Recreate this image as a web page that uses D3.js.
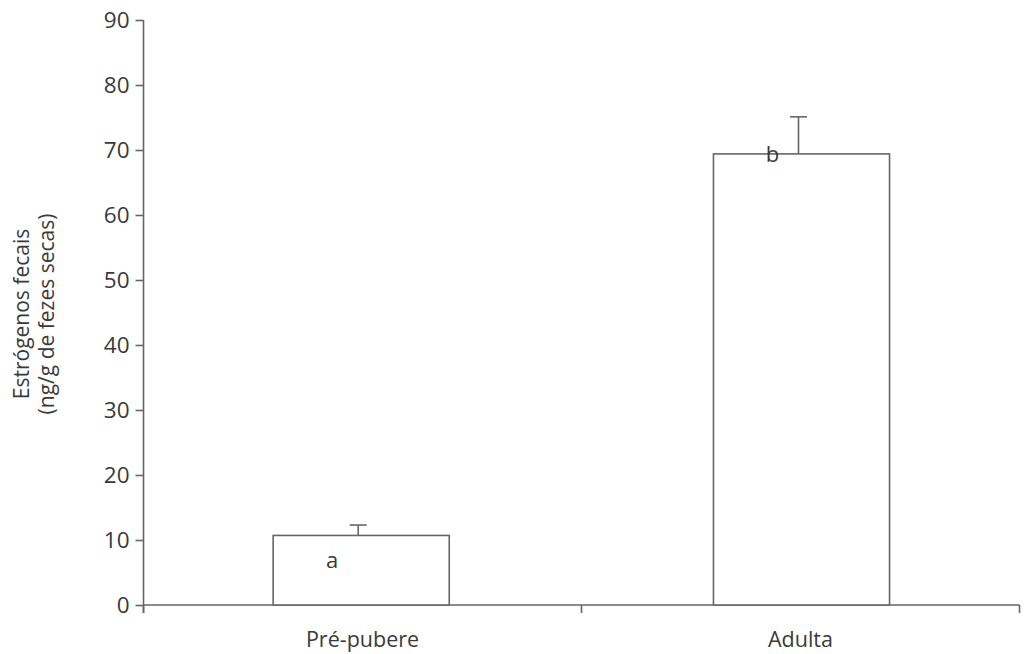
<!DOCTYPE html>
<html>
<head>
<meta charset="utf-8">
<script src="https://cdn.jsdelivr.net/npm/d3@7"></script>
<style>
  html, body { margin: 0; padding: 0; background: #fff; }
  svg text { font-family: "Open Sans", "Lato", sans-serif; fill: #3a3a3a; }
</style>
</head>
<body>
<svg id="chart" width="1026" height="654"></svg>
<script>
const categories = ["Pré-pubere", "Adulta"];
const means = [10.7, 69.4];
const errorTops = [12.3, 75.1];
const letters = ["a", "b"];
const yTicks = [0, 10, 20, 30, 40, 50, 60, 70, 80, 90];
const yTitle = ["Estrógenos fecais", "(ng/g de fezes secas)"];

(function () {
const svg = d3.select("#chart");
const axisColor = "#666";
const mLeft = 143.5, mRight = 1019.5, mTop = 20, mBottom = 605;

const y = d3.scaleLinear().domain([0, 90]).range([mBottom, mTop]);
const x = d3.scaleBand().domain(categories).range([mLeft, mRight]).padding(0);
const bw = x.bandwidth();

// y axis
const yAxis = svg.append("g")
  .attr("transform", `translate(${mLeft},0)`)
  .call(d3.axisLeft(y).tickValues(yTicks).tickSize(8).tickPadding(6).tickSizeOuter(0));
yAxis.select(".domain").attr("stroke", axisColor).attr("stroke-width", 1.6)
  .attr("d", `M0,${mTop}V${mBottom + 8}`);
yAxis.selectAll(".tick line").attr("stroke", axisColor).attr("stroke-width", 1.6);
yAxis.selectAll(".tick text").attr("font-size", 22.5).attr("fill", "#3a3a3a")
  .attr("font-family", "'Open Sans', sans-serif");

// x axis
const xAxisG = svg.append("g").attr("transform", `translate(0,${mBottom})`);
xAxisG.append("line").attr("x1", mLeft).attr("x2", mRight).attr("y1", 0).attr("y2", 0)
  .attr("stroke", axisColor).attr("stroke-width", 1.6);
const xTickPos = [mLeft].concat(categories.map(c => x(c) + bw));
xAxisG.selectAll("line.xt").data(xTickPos).enter().append("line")
  .attr("class", "xt")
  .attr("x1", d => d).attr("x2", d => d).attr("y1", 0).attr("y2", 8)
  .attr("stroke", axisColor).attr("stroke-width", 1.6);
xAxisG.selectAll("text.cat").data(categories).enter().append("text")
  .attr("class", "cat")
  .attr("x", d => x(d) + bw / 2)
  .attr("y", 42)
  .attr("text-anchor", "middle")
  .attr("font-size", 21.5)
  .text(d => d);

// bars
const barW = bw * 0.402;
const barX = (c, i) => x(c) + bw / 2 - barW / 2 + (i === 0 ? -1.3 : 1);
svg.selectAll("rect.bar").data(categories).enter().append("rect")
  .attr("class", "bar")
  .attr("x", (c, i) => barX(c, i))
  .attr("y", (c, i) => y(means[i]))
  .attr("width", barW)
  .attr("height", (c, i) => y(0) - y(means[i]))
  .attr("fill", "#fff")
  .attr("stroke", axisColor)
  .attr("stroke-width", 1.6);

// error bars
const errX = (c, i) => barX(c, i) + barW / 2 - 3;
svg.selectAll("line.err").data(categories).enter().append("line")
  .attr("class", "err")
  .attr("x1", errX).attr("x2", errX)
  .attr("y1", (c, i) => y(means[i]))
  .attr("y2", (c, i) => y(errorTops[i]))
  .attr("stroke", axisColor).attr("stroke-width", 1.6);
svg.selectAll("line.cap").data(categories).enter().append("line")
  .attr("class", "cap")
  .attr("x1", (c, i) => errX(c, i) - 8.5).attr("x2", (c, i) => errX(c, i) + 8.5)
  .attr("y1", (c, i) => y(errorTops[i]))
  .attr("y2", (c, i) => y(errorTops[i]))
  .attr("stroke", axisColor).attr("stroke-width", 1.6);

// letters
svg.selectAll("text.let").data(categories).enter().append("text")
  .attr("class", "let")
  .attr("x", (c, i) => errX(c, i) - 26)
  .attr("y", (c, i) => i === 0 ? 568 : y(means[i]) + 8)
  .attr("text-anchor", "middle")
  .attr("font-size", 22)
  .text((c, i) => letters[i]);

// y title
const yt = svg.append("text")
  .attr("transform", "translate(0,314) rotate(-90)")
  .attr("text-anchor", "middle")
  .attr("font-size", 21);
yt.selectAll("tspan").data(yTitle).enter().append("tspan")
  .attr("x", 0)
  .attr("y", (d, i) => 29 + i * 25)
  .text(d => d);
})();
</script>
</body>
</html>
